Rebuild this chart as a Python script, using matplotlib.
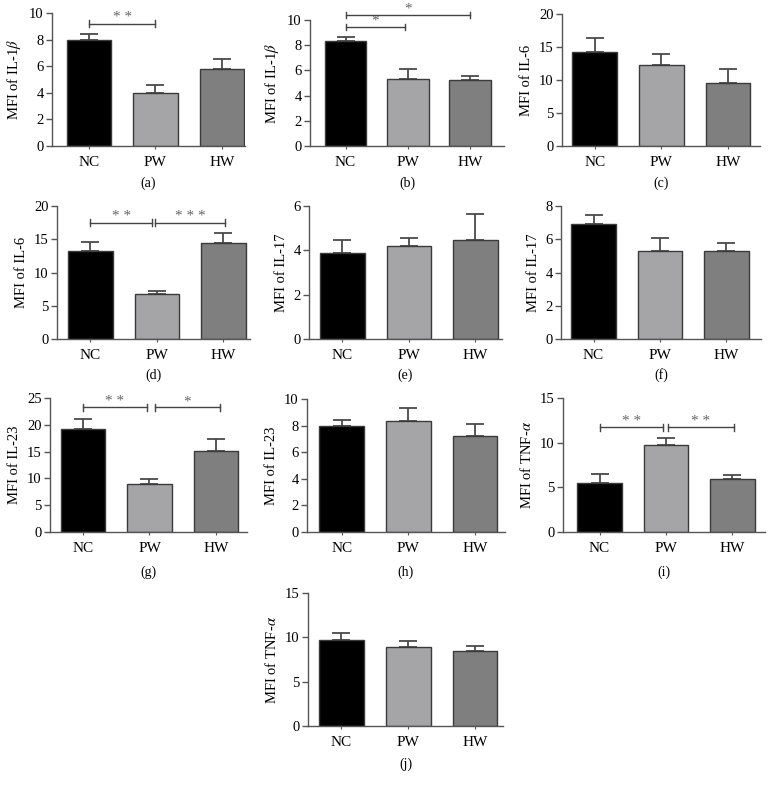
import matplotlib
matplotlib.use("Agg")
import matplotlib.pyplot as plt

plt.rcParams["font.family"] = ["Liberation Serif", "DejaVu Serif"]
plt.rcParams["mathtext.fontset"] = "stix"

groups = ["NC", "PW", "HW"]
colors = ["#000000", "#a5a5a8", "#7f7f7f"]

panel_tags = ["(a)", "(b)", "(c)", "(d)", "(e)", "(f)", "(g)", "(h)", "(i)", "(j)"]
ylabels = [
    r"MFI of IL-1$\beta$", r"MFI of IL-1$\beta$", "MFI of IL-6", "MFI of IL-6",
    "MFI of IL-17", "MFI of IL-17", "MFI of IL-23", "MFI of IL-23",
    r"MFI of TNF-$\alpha$", r"MFI of TNF-$\alpha$",
]
means = [
    [8.0, 3.97, 5.78],
    [8.33, 5.29, 5.21],
    [14.3, 12.2, 9.55],
    [13.3, 6.77, 14.5],
    [3.88, 4.21, 4.48],
    [6.89, 5.31, 5.31],
    [19.3, 8.9, 15.1],
    [7.96, 8.32, 7.19],
    [5.44, 9.75, 5.96],
    [9.71, 8.92, 8.5],
]
errs = [
    [0.4, 0.65, 0.75],
    [0.35, 0.79, 0.35],
    [2.0, 1.8, 2.15],
    [1.3, 0.5, 1.4],
    [0.57, 0.35, 1.14],
    [0.54, 0.74, 0.44],
    [1.8, 1.04, 2.3],
    [0.48, 0.98, 0.93],
    [1.05, 0.82, 0.45],
    [0.83, 0.68, 0.49],
]
ymax = [10, 10, 20, 20, 6, 8, 25, 10, 15, 15]
ystep = [2, 2, 5, 5, 2, 2, 5, 2, 5, 5]

# significance brackets: panel, x start, x end, height, stars
sig_panel = [0, 1, 1, 3, 3, 6, 6, 8, 8]
sig_x0 = [0.0, 0.0, 0.0, 0.0, 0.98, 0.0, 1.08, 0.0, 1.03]
sig_x1 = [1.0, 0.96, 2.0, 0.93, 2.02, 0.96, 2.06, 0.96, 2.02]
sig_y = [9.2, 9.47, 10.4, 17.5, 17.5, 23.25, 23.25, 11.7, 11.7]
sig_text = ["**", "*", "*", "**", "***", "**", "*", "**", "**"]

# axes boxes in pixels: left, top, right, bottom
boxes = [
    (52, 13, 245, 146), (310, 20, 504, 146), (562, 14, 760, 146),
    (57, 206, 250, 339), (309, 206, 502, 339), (561, 206, 761, 339),
    (50, 398, 247, 532), (307, 399, 505, 532), (563, 398, 765, 532),
    (308, 593, 503, 726),
]
xlims = [
    (-0.56, 2.35), (-0.57, 2.54), (-0.49, 2.48), (-0.5, 2.4), (-0.5, 2.4),
    (-0.49, 2.52), (-0.5, 2.47), (-0.52, 2.45), (-0.55, 2.49), (-0.5, 2.42),
]
tag_y = [183, 183, 183, 375, 375, 375, 572, 572, 572, 764]

W, H = 774, 789
fig = plt.figure(figsize=(W / 100, H / 100), dpi=100)
axis_col = "#555555"

for k in range(10):
    l, t, r, b = boxes[k]
    ax = fig.add_axes([l / W, 1 - b / H, (r - l) / W, (b - t) / H])
    x = range(3)
    ax.bar(x, means[k], width=0.67, color=colors, edgecolor="#3a3a3a", linewidth=1.0, zorder=2)
    ax.errorbar(x, means[k], yerr=[[0, 0, 0], errs[k]], fmt="none", ecolor="#4a4a4a",
                elinewidth=1.3, capsize=6.5, capthick=1.3, zorder=1)
    ax.set_xlim(*xlims[k])
    ax.set_ylim(0, ymax[k])
    ax.set_yticks(range(0, ymax[k] + 1, ystep[k]))
    ax.set_xticks(list(x))
    ax.set_xticklabels(groups)
    ax.spines["top"].set_visible(False)
    ax.spines["right"].set_visible(False)
    for s in ("left", "bottom"):
        ax.spines[s].set_color(axis_col)
        ax.spines[s].set_linewidth(1.0)
    ax.tick_params(axis="y", length=4, width=1, color=axis_col, labelsize=10.5, pad=2)
    ax.tick_params(axis="x", length=2.5, width=0.8, color=axis_col, labelsize=11, pad=5)
    ax.set_ylabel(ylabels[k], fontsize=10.5, labelpad=4)
    fig.text(((l + r) / 2) / W, 1 - tag_y[k] / H, panel_tags[k], ha="center", va="center", fontsize=10)

    for i in range(len(sig_panel)):
        if sig_panel[i] != k:
            continue
        x0, x1, y = sig_x0[i], sig_x1[i], sig_y[i]
        tick = ymax[k] * 0.025
        ax.plot([x0, x1], [y, y], color="#444444", lw=1.0, clip_on=False, zorder=3)
        ax.plot([x0, x0], [y - tick, y + tick], color="#444444", lw=1.0, clip_on=False, zorder=3)
        ax.plot([x1, x1], [y - tick, y + tick], color="#444444", lw=1.0, clip_on=False, zorder=3)
        ax.text((x0 + x1) / 2, y - ymax[k] * 0.005, " ".join(sig_text[i]), ha="center", va="bottom",
                fontsize=11, color="#666666", clip_on=False)

fig.savefig("out.png", dpi=100)
